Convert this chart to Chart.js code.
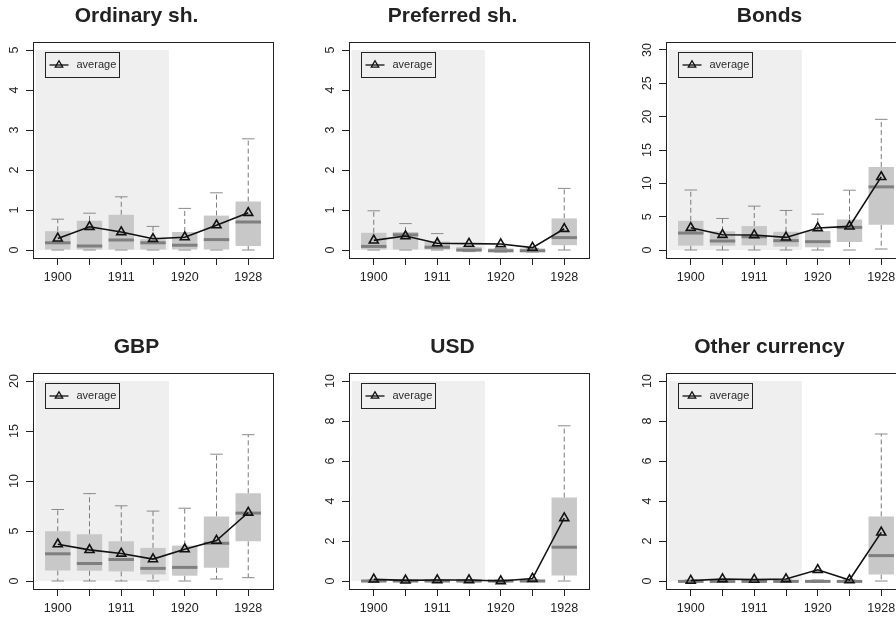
<!DOCTYPE html>
<html>
<head>
<meta charset="utf-8">
<script src="https://cdn.jsdelivr.net/npm/chart.js@4.4.0/dist/chart.umd.min.js"></script>
<style>
  html, body { margin: 0; padding: 0; background: #fff; }
  body { width: 896px; height: 617px; overflow: hidden; position: relative; }
  canvas { position: absolute; }
</style>
</head>
<body>
<canvas id="c0" width="316" height="300" style="left:0px;top:0px"></canvas>
<canvas id="c1" width="316" height="300" style="left:316px;top:0px"></canvas>
<canvas id="c2" width="316" height="300" style="left:633px;top:0px"></canvas>
<canvas id="c3" width="316" height="300" style="left:0px;top:331px"></canvas>
<canvas id="c4" width="316" height="300" style="left:316px;top:331px"></canvas>
<canvas id="c5" width="316" height="300" style="left:633px;top:331px"></canvas>
<script>
const positions = [1, 2, 3, 4, 5, 6, 7];
const tickLabels = ["1900", "", "1911", "", "1920", "", "1928"];
const shadeFrom = 0.3;
const shadeTo = 4.5;

// Ordinary shares
const ordMin = [0, 0, 0, 0, 0, 0, 0];
const ordQ1 = [0, 0, 0, 0, 0, 0, 0.10];
const ordMed = [0.18, 0.10, 0.25, 0.18, 0.12, 0.26, 0.70];
const ordQ3 = [0.47, 0.73, 0.88, 0.27, 0.45, 0.86, 1.21];
const ordMax = [0.77, 0.92, 1.33, 0.59, 1.04, 1.43, 2.78];
const ordAvg = [0.29, 0.58, 0.45, 0.28, 0.32, 0.62, 0.93];

// Preferred shares
const prefMin = [0, 0, 0, -0.04, -0.05, -0.05, 0];
const prefQ1 = [0, 0, 0, -0.04, -0.05, -0.05, 0.12];
const prefMed = [0.09, 0.38, 0.07, 0, -0.02, -0.02, 0.31];
const prefQ3 = [0.43, 0.45, 0.21, 0.08, 0.04, 0.04, 0.79];
const prefMax = [0.98, 0.66, 0.41, 0.08, 0.04, 0.04, 1.54];
const prefAvg = [0.24, 0.35, 0.17, 0.16, 0.15, 0.06, 0.53];

// Bonds
const bondMin = [0, 0, 0, 0, 0, 0, 0.15];
const bondQ1 = [0.65, 0.65, 0.70, 0.50, 0.40, 1.20, 3.79];
const bondMed = [2.54, 1.35, 1.99, 1.40, 1.25, 3.39, 9.47];
const bondQ3 = [4.38, 2.80, 3.59, 2.74, 2.84, 4.58, 12.46];
const bondMax = [9.0, 4.73, 6.58, 5.93, 5.38, 8.97, 19.6];
const bondAvg = [3.34, 2.29, 2.24, 1.89, 3.29, 3.54, 10.96];

// GBP
const gbpMin = [0, 0, 0, 0, 0, 0.2, 0.33];
const gbpQ1 = [1.06, 1.03, 0.96, 0.66, 0.53, 1.32, 3.97];
const gbpMed = [2.72, 1.75, 2.15, 1.26, 1.36, 3.77, 6.79];
const gbpQ3 = [4.97, 4.67, 3.97, 3.31, 3.54, 6.46, 8.77];
const gbpMax = [7.15, 8.74, 7.52, 6.99, 7.28, 12.68, 14.63];
const gbpAvg = [3.68, 3.11, 2.75, 2.19, 3.18, 4.04, 6.85];

// USD
const usdMin = [-0.06, -0.06, -0.06, -0.06, -0.06, -0.06, 0];
const usdQ1 = [-0.06, -0.06, -0.06, -0.06, -0.06, -0.06, 0.28];
const usdMed = [0, 0, 0, 0, 0, 0, 1.69];
const usdQ3 = [0.06, 0.06, 0.06, 0.06, 0.06, 0.06, 4.17];
const usdMax = [0.06, 0.06, 0.06, 0.06, 0.06, 0.06, 7.76];
const usdAvg = [0.08, 0.03, 0.05, 0.05, 0.0, 0.12, 3.15];

// Other currency
const othMin = [-0.07, -0.07, -0.07, -0.07, -0.07, -0.07, 0];
const othQ1 = [-0.07, -0.07, -0.07, -0.07, -0.07, -0.07, 0.33];
const othMed = [-0.02, -0.02, -0.02, -0.02, -0.02, -0.02, 1.27];
const othQ3 = [0.05, 0.05, 0.05, 0.05, 0.05, 0.05, 3.23];
const othMax = [0.05, 0.05, 0.05, 0.05, 0.05, 0.05, 7.35];
const othAvg = [0.02, 0.10, 0.07, 0.10, 0.56, 0.05, 2.43];

const panels = [
  { id: "c0", title: "Ordinary sh.", yTicks: [0, 1, 2, 3, 4, 5], min: ordMin, q1: ordQ1, med: ordMed, q3: ordQ3, max: ordMax, avg: ordAvg },
  { id: "c1", title: "Preferred sh.", yTicks: [0, 1, 2, 3, 4, 5], min: prefMin, q1: prefQ1, med: prefMed, q3: prefQ3, max: prefMax, avg: prefAvg },
  { id: "c2", title: "Bonds", yTicks: [0, 5, 10, 15, 20, 25, 30], min: bondMin, q1: bondQ1, med: bondMed, q3: bondQ3, max: bondMax, avg: bondAvg },
  { id: "c3", title: "GBP", yTicks: [0, 5, 10, 15, 20], min: gbpMin, q1: gbpQ1, med: gbpMed, q3: gbpQ3, max: gbpMax, avg: gbpAvg },
  { id: "c4", title: "USD", yTicks: [0, 2, 4, 6, 8, 10], min: usdMin, q1: usdQ1, med: usdMed, q3: usdQ3, max: usdMax, avg: usdAvg },
  { id: "c5", title: "Other currency", yTicks: [0, 2, 4, 6, 8, 10], min: othMin, q1: othQ1, med: othMed, q3: othQ3, max: othMax, avg: othAvg }
];

const FONT = "'Liberation Sans', Arial, Helvetica, sans-serif";
const INK = "#222";

// shaded period, outer box and the "average" key
const panelDecor = {
  id: "panelDecor",
  beforeDatasetsDraw(chart, args, opts) {
    const { ctx, scales: { x, y } } = chart;
    const l = x.getPixelForValue(shadeFrom), r = x.getPixelForValue(shadeTo);
    const t = y.getPixelForValue(opts.shadeTop), b = y.getPixelForValue(0);
    ctx.save();
    ctx.fillStyle = "#efefef";
    ctx.fillRect(l, t, r - l, b - t);
    ctx.restore();
  },
  afterDraw(chart) {
    const { ctx, chartArea: a } = chart;
    ctx.save();
    ctx.strokeStyle = INK;
    ctx.lineWidth = 1;
    ctx.strokeRect(Math.round(a.left) + 0.5, Math.round(a.top) + 0.5, Math.round(a.right - a.left), Math.round(a.bottom - a.top));

    const bx = Math.round(a.left) + 12.5, by = Math.round(a.top) + 10.5;
    ctx.strokeRect(bx, by, 74, 25);
    const my = by + 12.5;
    ctx.strokeStyle = "#111";
    ctx.lineWidth = 1.3;
    ctx.beginPath();
    ctx.moveTo(bx + 4, my);
    ctx.lineTo(bx + 23, my);
    ctx.stroke();
    ctx.fillStyle = "rgba(0,0,0,0)";
    Chart.helpers.drawPoint(ctx, { pointStyle: "triangle", radius: 4.3, borderWidth: 1.3, rotation: 0 }, bx + 13.5, my);
    ctx.fillStyle = "#2a2a2a";
    ctx.font = "11px " + FONT;
    ctx.textBaseline = "middle";
    ctx.textAlign = "left";
    ctx.fillText("average", bx + 31, my);
    ctx.restore();
  }
};

function makeChart(p) {
  const ctx = document.getElementById(p.id).getContext("2d");
  const top = p.yTicks[p.yTicks.length - 1];
  const span = top - p.yTicks[0];
  const labelW = String(top).length * 6.67;

  const whiskers = [];
  const caps = [];
  positions.forEach(function (x, i) {
    whiskers.push({ x: x, y: p.q3[i] }, { x: x, y: p.max[i] }, { x: x, y: null });
    whiskers.push({ x: x, y: p.q1[i] }, { x: x, y: p.min[i] }, { x: x, y: null });
    caps.push({ x: x, y: p.max[i] }, { x: x, y: p.min[i] });
  });

  new Chart(ctx, {
    type: "bar",
    data: {
      datasets: [
        {
          type: "line",
          label: "average",
          data: positions.map((x, i) => ({ x: x, y: p.avg[i] })),
          borderColor: "#111",
          borderWidth: 1.6,
          pointStyle: "triangle",
          pointRadius: 5.2,
          pointBorderWidth: 1.6,
          pointBorderColor: "#111",
          pointBackgroundColor: "rgba(0,0,0,0)"
        },
        {
          type: "line",
          label: "median",
          data: positions.map((x, i) => ({ x: x, y: p.med[i] })),
          showLine: false,
          pointStyle: "line",
          pointRadius: 12.7,
          pointBorderWidth: 3,
          pointBorderColor: "#7f7f7f"
        },
        {
          type: "line",
          label: "caps",
          data: caps,
          showLine: false,
          pointStyle: "line",
          pointRadius: 6.3,
          pointBorderWidth: 1,
          pointBorderColor: "#8a8a8a"
        },
        {
          type: "bar",
          label: "box",
          data: positions.map((x, i) => ({ x: x, y: [p.q1[i], p.q3[i]] })),
          backgroundColor: "#c8c8c8",
          borderWidth: 0,
          barPercentage: 0.8,
          categoryPercentage: 1,
          grouped: false
        },
        {
          type: "line",
          label: "whiskers",
          data: whiskers,
          borderColor: "#7a7a7a",
          borderWidth: 1,
          borderDash: [5, 3],
          pointRadius: 0,
          spanGaps: false
        }
      ]
    },
    options: {
      responsive: false,
      animation: false,
      events: [],
      layout: { padding: { right: 43 } },
      scales: {
        x: {
          type: "linear",
          offset: false,
          min: 0.22,
          max: 7.78,
          afterBuildTicks: function (scale) {
            scale.ticks = positions.map(v => ({ value: v }));
          },
          afterFit: function (scale) { scale.height = 42; },
          ticks: {
            autoSkip: false,
            maxRotation: 0,
            padding: 5,
            color: INK,
            font: { family: FONT, size: 12.5 },
            callback: function (value, index) { return tickLabels[index]; }
          },
          grid: { drawOnChartArea: false, offset: false, tickLength: 7, color: INK },
          border: { color: INK }
        },
        y: {
          min: p.yTicks[0] - 0.04 * span,
          max: top + 0.04 * span,
          afterBuildTicks: function (scale) {
            scale.ticks = p.yTicks.map(v => ({ value: v }));
          },
          afterFit: function (scale) { scale.width = 33; },
          ticks: {
            minRotation: 90,
            maxRotation: 90,
            crossAlign: "center",
            padding: 11 - labelW / 2,
            color: INK,
            font: { family: FONT, size: 12.5 },
            callback: function (value) { return String(value); }
          },
          grid: { drawOnChartArea: false, tickLength: 7, color: INK },
          border: { color: INK }
        }
      },
      plugins: {
        legend: { display: false },
        tooltip: { enabled: false },
        title: {
          display: true,
          text: p.title,
          color: INK,
          font: { family: FONT, size: 21, weight: "bold" },
          padding: { top: 4, bottom: 12.8 }
        },
        panelDecor: { shadeTop: top }
      }
    },
    plugins: [panelDecor]
  });
}

panels.forEach(makeChart);
</script>
</body>
</html>
